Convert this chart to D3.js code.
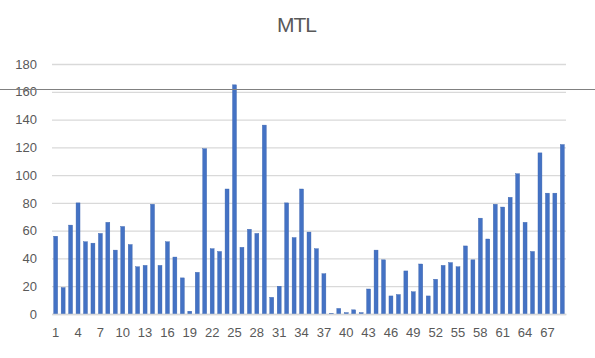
<!DOCTYPE html>
<html><head><meta charset="utf-8">
<script src="https://cdn.jsdelivr.net/npm/d3@7"></script>
<style>body{margin:0;background:#fff}svg{display:block;font-family:"Liberation Sans",Arial,sans-serif}</style>
</head><body>
<script>
const categories = d3.range(1, 70).map(String);
const values = [56,19,64,80,52,51,58,66,46,63,50,34,35,79,35,52,41,26,2,30,119,47,45,90,165,48,61,58,136,12,20,80,55,90,59,47,29,0.5,4,1,3,1,18,46,39,13,14,31,16,36,13,25,35,37,34,49,39,69,54,79,77,84,101,66,45,116,87,87,122];
const yTicks = [0,20,40,60,80,100,120,140,160,180];
const xTickLabels = categories.filter((d,i)=> i % 3 === 0);
const title = "MTL";

const W = 595, H = 358;
const svg = d3.select("body").append("svg").attr("width", W).attr("height", H);
const m = {left: 52, right: 29, top: 64, bottom: 44};
const x = d3.scaleBand().domain(categories).range([m.left, W - m.right]).paddingInner(0.47).paddingOuter(0.23);
const y = d3.scaleLinear().domain([0, 180]).range([H - m.bottom, m.top]);

svg.append("text").attr("x", 297).attr("y", 32).attr("text-anchor","middle")
  .attr("font-size", 21).attr("fill", "#595959").attr("textLength", 40).text(title);

const yAxis = svg.append("g").attr("transform", `translate(${m.left},0)`)
  .call(d3.axisLeft(y).tickValues(yTicks).tickSize(-(W - m.left - m.right)).tickPadding(15));
yAxis.select(".domain").remove();
yAxis.selectAll("line").attr("stroke", "#d9d9d9").attr("stroke-width", 1.3);
yAxis.selectAll("text").attr("font-size", 13).attr("fill", "#595959").attr("font-family","Liberation Sans, Arial, sans-serif");

svg.append("g").selectAll("rect").data(values).join("rect")
  .attr("x", (d,i)=> x(categories[i]))
  .attr("width", x.bandwidth())
  .attr("y", d => y(d))
  .attr("height", d => y(0) - y(d))
  .attr("fill", "#4472C4")
  .attr("stroke", "#3a63ad").attr("stroke-width", 0.4);

const xAxis = svg.append("g").attr("transform", `translate(0,${y(0)})`)
  .call(d3.axisBottom(x).tickValues(xTickLabels).tickSize(0).tickPadding(14));
xAxis.select(".domain").attr("stroke", "#d9d9d9").attr("stroke-width", 1.3);
xAxis.selectAll("text").attr("font-size", 13).attr("fill", "#595959").attr("font-family","Liberation Sans, Arial, sans-serif");

svg.append("line").attr("x1", 0).attr("x2", W).attr("y1", 89.5).attr("y2", 89.5)
  .attr("stroke", "#808080").attr("stroke-width", 1);
</script>
</body></html>
